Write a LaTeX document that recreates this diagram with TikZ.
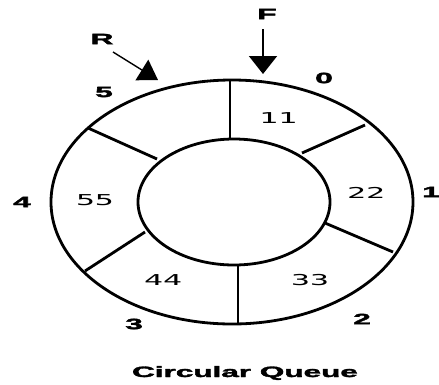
\documentclass[tikz,border=0pt]{standalone}
\usepackage{graphicx}
\usepackage{fontspec}
\setmainfont{Liberation Sans}
\newfontfamily\valfont{DejaVu Sans Mono}
\newfontfamily\heavyfont[FakeBold=2]{Liberation Sans Bold}
\usetikzlibrary{arrows.meta}
\newcommand{\wide}[1]{\scalebox{2.1}[1]{#1}}
\begin{document}
\begin{tikzpicture}[x=1pt,y=-1pt,
  ring/.style={line width=2.8pt},
  idx/.style={inner sep=0pt, font=\fontsize{15}{15}\heavyfont},
  val/.style={inner sep=0pt, font=\fontsize{15}{15}\valfont},
  ptrF/.style={line width=1.8pt, -{Triangle[width=28pt,length=18pt]}},
  ptrR/.style={line width=1.4pt, -{Triangle[width=24pt,length=19pt]}}]
\useasboundingbox (0,0) rectangle (439,384);
% rings
\draw[ring] (232,202) ellipse [x radius=181pt, y radius=122pt];
\draw[ring] (234,202) ellipse [x radius=96pt, y radius=63pt];
% divider end points
\coordinate (o0) at (230,80);  \coordinate (i0) at (230,139);
\coordinate (o1) at (365,125); \coordinate (i1) at (302,153);
\coordinate (o2) at (393,252); \coordinate (i2) at (325,223);
\coordinate (o3) at (238,325); \coordinate (i3) at (238,265);
\coordinate (o4) at (85,271);  \coordinate (i4) at (145,232);
\coordinate (o5) at (88,128);  \coordinate (i5) at (157,159);
\foreach \k in {0,...,5} \draw[ring] (o\k) -- (i\k);
% values
\node[val] (v0) at (278,118) {\wide{11}};
\node[val] (v1) at (366,193) {\wide{22}};
\node[val] (v2) at (310,280) {\wide{33}};
\node[val] (v3) at (163,280) {\wide{44}};
\node[val] (v4) at (95,200) {\wide{55}};
% indices
\node[idx] (n0) at (324,78) {\wide{0}};
\node[idx] (n1) at (431,192) {\wide{1}};
\node[idx] (n2) at (362,319) {\wide{2}};
\node[idx] (n3) at (134,324) {\wide{3}};
\node[idx] (n4) at (22,202) {\wide{4}};
\node[idx] (n5) at (104,92) {\wide{5}};
% pointers
\node[idx] (F) at (267,14) {\wide{F}};
\node[idx] (R) at (102,39) {\wide{R}};
\coordinate (Fs) at (263,29);
\coordinate (Ft) at (263,74);
\coordinate (Rs) at (113,52);
\coordinate (Rt) at (158,80);
\draw[ptrF] (Fs) -- (Ft);
\draw[ptrR] (Rs) -- (Rt);
% caption
\node[idx, anchor=base] (cap) at (245,377) {\wide{Circular Queue}};
\end{tikzpicture}
\end{document}
